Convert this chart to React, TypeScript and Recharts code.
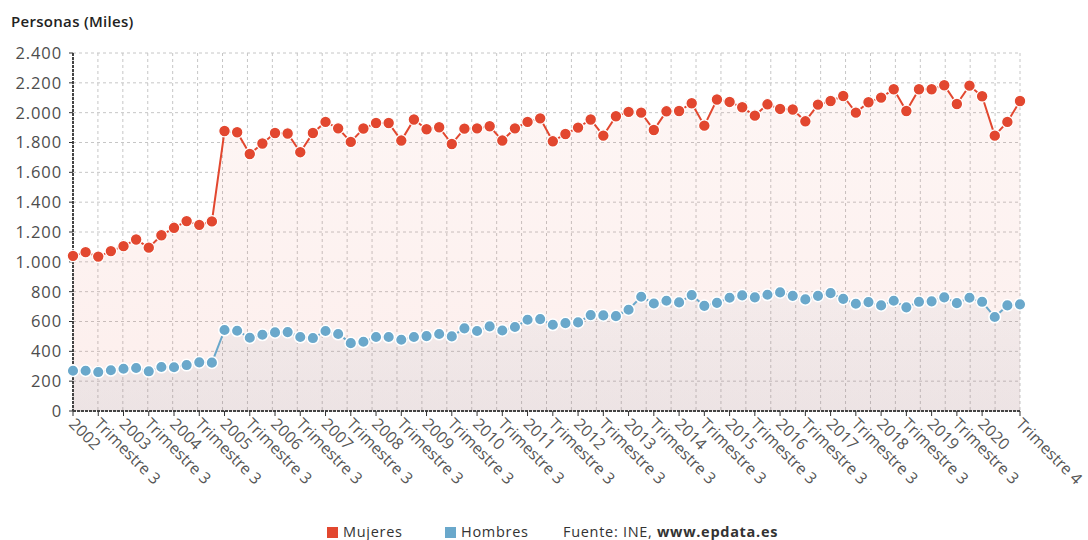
import React from 'react';
import { ComposedChart, Area, XAxis, YAxis, CartesianGrid } from 'recharts';

// Ocupados por sexo, datos trimestrales 2002 T1 – 2020 T4 (miles de personas)
const years = [
  2002, 2003, 2004, 2005, 2006, 2007, 2008, 2009, 2010, 2011,
  2012, 2013, 2014, 2015, 2016, 2017, 2018, 2019, 2020,
];

const mujeres = [
  1040, 1065, 1035, 1072, 1105, 1150, 1095, 1178, 1228, 1273, 1248, 1271,
  1877, 1869, 1723, 1793, 1864, 1860, 1735, 1864, 1938, 1895, 1804, 1894,
  1931, 1931, 1813, 1954, 1889, 1902, 1790, 1893, 1895, 1909, 1813, 1895,
  1938, 1962, 1808, 1857, 1900, 1954, 1846, 1976, 2005, 2000, 1884, 2009,
  2011, 2063, 1913, 2088, 2072, 2036, 1980, 2056, 2025, 2021, 1942, 2054,
  2078, 2112, 2000, 2070, 2101, 2157, 2011, 2157, 2157, 2184, 2058, 2181,
  2110, 1846, 1938, 2078,
];

const hombres = [
  270, 270, 261, 273, 283, 288, 266, 295, 293, 308, 326, 324,
  543, 538, 491, 511, 527, 529, 496, 489, 536, 516, 455, 464,
  496, 496, 478, 496, 502, 516, 500, 554, 536, 567, 540, 563,
  612, 616, 578, 589, 594, 643, 641, 636, 679, 766, 721, 739,
  728, 777, 705, 725, 759, 775, 762, 779, 795, 772, 748, 772,
  790, 752, 719, 730, 708, 739, 695, 732, 735, 762, 723, 759,
  732, 630, 708, 715,
];

const tickLabels = [
  '2002', 'Trimestre 3', '2003', 'Trimestre 3', '2004', 'Trimestre 3',
  '2005', 'Trimestre 3', '2006', 'Trimestre 3', '2007', 'Trimestre 3',
  '2008', 'Trimestre 3', '2009', 'Trimestre 3', '2010', 'Trimestre 3',
  '2011', 'Trimestre 3', '2012', 'Trimestre 3', '2013', 'Trimestre 3',
  '2014', 'Trimestre 3', '2015', 'Trimestre 3', '2016', 'Trimestre 3',
  '2017', 'Trimestre 3', '2018', 'Trimestre 3', '2019', 'Trimestre 3',
  '2020', 'Trimestre 4',
];

const yTicks = [0, 200, 400, 600, 800, 1000, 1200, 1400, 1600, 1800, 2000, 2200, 2400];

const RED = '#e2472f';
const BLUE = '#6aa8cb';
const FONT = "'Open Sans', 'Noto Sans', sans-serif";

const data = mujeres.map((m, i) => ({
  i,
  periodo: `${years[Math.floor(i / 4)]} T${(i % 4) + 1}`,
  mujeres: m,
  hombres: hombres[i],
}));

const lastIndex = data.length - 1;
// Labelled ticks every two quarters, plus the final quarter
const tickIndexes = [...tickLabels.slice(0, -1).map((_, k) => k * 2), lastIndex];
const labelAt = new Map<number, string>(tickIndexes.map((t, k) => [t, tickLabels[k]]));

const fmtMiles = (v: number) => String(v).replace(/\B(?=(\d{3})+(?!\d))/g, '.');

const XTick = (props: any) => {
  const { x, y, payload } = props;
  const label = labelAt.get(payload.value) ?? '';
  const ox = x - 5;
  const oy = y + 7;
  return (
    <text
      x={ox}
      y={oy}
      transform={`rotate(45 ${ox} ${oy})`}
      textAnchor="start"
      fontFamily={FONT}
      fontSize={16}
      fill="#555"
    >
      {label}
    </text>
  );
};

const YTick = (props: any) => {
  const { x, y, payload } = props;
  return (
    <text
      x={x}
      y={y}
      dy="0.36em"
      textAnchor="end"
      fontFamily={FONT}
      fontSize={16.5}
      letterSpacing={0.9}
      fill="#4d4d4d"
    >
      {fmtMiles(payload.value)}
    </text>
  );
};

// Vertical grid split into 38 equal bands across the plot
const verticalGrid = ({ offset }: any) => {
  const left = offset?.left ?? 73;
  const w = offset?.width ?? 947;
  return Array.from({ length: 39 }, (_, k) => left + (k * w) / 38);
};

const LegendItem = ({ color, text, left }: { color: string; text: string; left: number }) => (
  <>
    <div
      style={{
        position: 'absolute',
        left,
        top: 527,
        width: 10.5,
        height: 10.5,
        background: color,
      }}
    />
    <div
      style={{
        position: 'absolute',
        left: left + 16,
        top: 524,
        fontSize: 14.5,
        lineHeight: '16px',
        letterSpacing: 0.7,
        color: '#333',
        fontFamily: FONT,
        whiteSpace: 'nowrap',
      }}
    >
      {text}
    </div>
  </>
);

export default function App() {
  return (
    <div
      style={{
        position: 'absolute',
        left: 0,
        top: 0,
        width: 1088,
        height: 540,
        background: '#fff',
        fontFamily: FONT,
        overflow: 'hidden',
      }}
    >
      <div
        style={{
          position: 'absolute',
          left: 11,
          top: 12,
          fontSize: 15,
          fontWeight: 600,
          lineHeight: '18px',
          letterSpacing: 0.3,
          color: '#222',
          whiteSpace: 'nowrap',
        }}
      >
        Personas (Miles)
      </div>

      <ComposedChart
        width={1088}
        height={540}
        data={data}
        margin={{ top: 53, right: 68, bottom: 0, left: 0 }}
      >
        <defs>
          <linearGradient id="fillMujeres" x1="0" y1="0" x2="0" y2="1">
            <stop offset="0%" stopColor={RED} stopOpacity={0.05} />
            <stop offset="100%" stopColor={RED} stopOpacity={0.09} />
          </linearGradient>
          <linearGradient id="fillHombres" x1="0" y1="0" x2="0" y2="1">
            <stop offset="0%" stopColor="#5f7f9a" stopOpacity={0.05} />
            <stop offset="100%" stopColor="#5f7f9a" stopOpacity={0.1} />
          </linearGradient>
        </defs>
        <CartesianGrid
          stroke="#c6c6c6"
          strokeDasharray="3 3"
          verticalCoordinatesGenerator={verticalGrid}
        />
        <XAxis
          dataKey="i"
          type="number"
          domain={[0, lastIndex]}
          ticks={tickIndexes}
          interval={0}
          height={129}
          tickSize={5}
          tickLine={{ stroke: '#333' }}
          axisLine={{ stroke: '#444', strokeWidth: 2, strokeDasharray: '3 1' }}
          tick={<XTick />}
        />
        <YAxis
          type="number"
          domain={[0, 2400]}
          ticks={yTicks}
          interval={0}
          width={73}
          tickSize={4}
          tickMargin={7}
          tickLine={{ stroke: '#333' }}
          axisLine={{ stroke: '#444', strokeWidth: 2, strokeDasharray: '3 1' }}
          tick={<YTick />}
        />
        <Area
          type="linear"
          dataKey="mujeres"
          name="Mujeres"
          stroke={RED}
          strokeWidth={2}
          fill="url(#fillMujeres)"
          fillOpacity={1}
          dot={{ r: 5.8, fill: RED, stroke: '#fff', strokeWidth: 1.2, fillOpacity: 1 }}
          activeDot={false}
          isAnimationActive={false}
        />
        <Area
          type="linear"
          dataKey="hombres"
          name="Hombres"
          stroke={BLUE}
          strokeWidth={2}
          fill="url(#fillHombres)"
          fillOpacity={1}
          dot={{ r: 5.8, fill: BLUE, stroke: '#fff', strokeWidth: 1.5, fillOpacity: 1 }}
          activeDot={false}
          isAnimationActive={false}
        />
      </ComposedChart>

      <LegendItem color={RED} text="Mujeres" left={327} />
      <LegendItem color={BLUE} text="Hombres" left={445} />
      <div
        style={{
          position: 'absolute',
          left: 563,
          top: 524,
          fontSize: 14.5,
          lineHeight: '16px',
          letterSpacing: 0.7,
          color: '#333',
          whiteSpace: 'nowrap',
        }}
      >
        Fuente: INE, <b style={{ fontWeight: 700 }}>www.epdata.es</b>
      </div>
    </div>
  );
}
